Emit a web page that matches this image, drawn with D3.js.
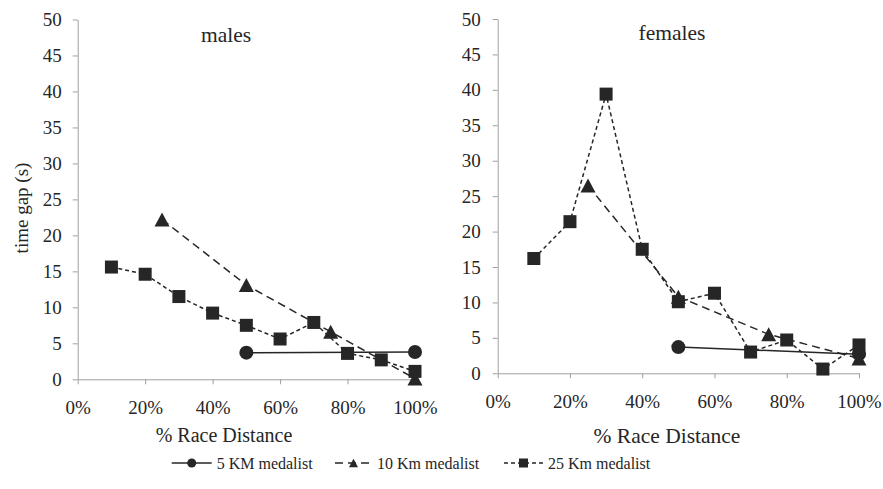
<!DOCTYPE html>
<html>
<head>
<meta charset="utf-8">
<script src="https://cdn.jsdelivr.net/npm/d3@7"></script>
<style>
  html, body { margin: 0; padding: 0; background: #fff; }
  svg text { font-family: "Liberation Serif", "Times New Roman", "Liberation Sans", Arial, sans-serif; }
</style>
</head>
<body>
<svg id="chart" width="883" height="489"></svg>
<script>
// ---- Data ----
const yTicks = [0, 5, 10, 15, 20, 25, 30, 35, 40, 45, 50];
const xTicks = [0, 20, 40, 60, 80, 100];
const x5 = [50, 100];
const x10 = [25, 50, 75, 100];
const x25 = [10, 20, 30, 40, 50, 60, 70, 80, 90, 100];
const male5 = [3.7, 3.8];
const male10 = [22.2, 13.1, 6.6, 0.1];
const male25 = [15.6, 14.6, 11.5, 9.2, 7.5, 5.6, 7.9, 3.6, 2.7, 1.1];
const female5 = [3.7, 2.7];
const female10 = [26.5, 10.8, 5.5, 2.1];
const female25 = [16.2, 21.4, 39.4, 17.5, 10.1, 11.3, 3.0, 4.7, 0.6, 4.0];
const seriesNames = ["5 KM medalist", "10 Km medalist", "25 Km medalist"];
const panelTitles = ["males", "females"];

const ink = "#262626";
const axisColor = "#a0a0a0";
const FONT = '"Liberation Serif", "Times New Roman", "Liberation Sans", Arial, sans-serif';
const svg = d3.select("#chart");

const styles = [
  { dash: null, marker: "circle" },
  { dash: "8,5", marker: "triangle" },
  { dash: "4,3", marker: "square" }
];

function drawMarker(g, type, cx, cy, size) {
  if (type === "circle") {
    g.append("circle").attr("cx", cx).attr("cy", cy).attr("r", size / 2).attr("fill", ink);
  } else if (type === "square") {
    g.append("rect").attr("x", cx - size / 2).attr("y", cy - size / 2)
      .attr("width", size).attr("height", size).attr("fill", ink);
  } else {
    const h = size * 0.93;
    g.append("path")
      .attr("d", `M${cx},${cy - h / 2}L${cx + size / 2},${cy + h / 2}L${cx - size / 2},${cy + h / 2}Z`)
      .attr("fill", ink);
  }
}

function panel(cfg) {
  const x = d3.scaleLinear().domain([0, 100]).range(cfg.xr);
  const y = d3.scaleLinear().domain([0, 50]).range(cfg.yr);
  const g = svg.append("g");

  // Y axis
  const ya = g.append("g").attr("transform", `translate(${cfg.xr[0]},0)`)
    .call(d3.axisLeft(y).tickValues(yTicks).tickSize(5).tickPadding(cfg.yPad).tickSizeOuter(0));
  ya.attr("font-family", FONT).attr("font-size", cfg.tickFont);
  ya.select(".domain").attr("stroke", axisColor);
  ya.selectAll(".tick line").attr("stroke", axisColor);
  ya.selectAll(".tick text").attr("fill", ink);

  // X axis
  const xa = g.append("g").attr("transform", `translate(0,${cfg.yr[0]})`)
    .call(d3.axisBottom(x).tickValues(xTicks).tickSize(5).tickSizeOuter(0).tickFormat(d => d + "%"));
  xa.attr("font-family", FONT).attr("font-size", cfg.tickFont);
  xa.select(".domain").attr("stroke", axisColor);
  xa.selectAll(".tick line").attr("stroke", axisColor);
  xa.selectAll(".tick text").attr("fill", ink).attr("y", 34.7).attr("dy", 0);

  // Titles
  g.append("text").attr("x", cfg.titleX).attr("y", cfg.titleY).attr("text-anchor", "middle")
    .attr("fill", ink).attr("font-size", 21.5).text(cfg.title);
  g.append("text").attr("x", cfg.xTitleX).attr("y", cfg.xTitleY)
    .attr("text-anchor", "middle").attr("fill", ink)
    .attr("font-size", cfg.xTitleFont).text("% Race Distance");

  // Series
  const sets = [[x5, cfg.d5], [x10, cfg.d10], [x25, cfg.d25]];
  const line = d3.line().x(d => x(d[0])).y(d => y(d[1]));
  sets.forEach((s, i) => {
    const pts = s[0].map((xv, k) => [xv, s[1][k]]);
    g.append("path").datum(pts).attr("d", line).attr("fill", "none")
      .attr("stroke", ink).attr("stroke-width", 1.5)
      .attr("stroke-dasharray", styles[i].dash);
  });
  sets.forEach((s, i) => {
    const mg = g.append("g");
    s[0].forEach((xv, k) => drawMarker(mg, styles[i].marker, x(xv), y(s[1][k]), i === 0 ? 14 : (i === 1 ? 15 : 13)));
  });
}

panel({ xr: [77.7, 415], yr: [379.3, 19.5], yPad: 11, tickFont: 19, title: panelTitles[0],
  titleX: 226, titleY: 42, xTitleX: 224, xTitleY: 442, xTitleFont: 20,
  d5: male5, d10: male10, d25: male25 });
panel({ xr: [497.7, 859], yr: [373.3, 19], yPad: 12, tickFont: 19, title: panelTitles[1],
  titleX: 672, titleY: 40, xTitleX: 667, xTitleY: 443, xTitleFont: 21.5,
  d5: female5, d10: female10, d25: female25 });

// Y axis title
svg.append("text").attr("transform", "translate(28,208) rotate(-90)").attr("text-anchor", "middle")
  .attr("fill", ink).attr("font-size", 19).text("time gap (s)");

// Legend
const legendItems = [
  { x0: 171.7, x1: 211.7, tx: 216.7 },
  { x0: 335, x1: 372, tx: 377 },
  { x0: 504, x1: 543, tx: 548 }
];
const ly = 463;
legendItems.forEach((it, i) => {
  const lg = svg.append("g");
  lg.append("line").attr("x1", it.x0).attr("x2", it.x1).attr("y1", ly).attr("y2", ly)
    .attr("stroke", ink).attr("stroke-width", 1.5).attr("stroke-dasharray", styles[i].dash);
  drawMarker(lg, styles[i].marker, (it.x0 + it.x1) / 2, ly, 9);
  lg.append("text").attr("x", it.tx).attr("y", ly + 5.5).attr("fill", ink)
    .attr("font-size", 16).text(seriesNames[i]);
});
</script>
</body>
</html>
